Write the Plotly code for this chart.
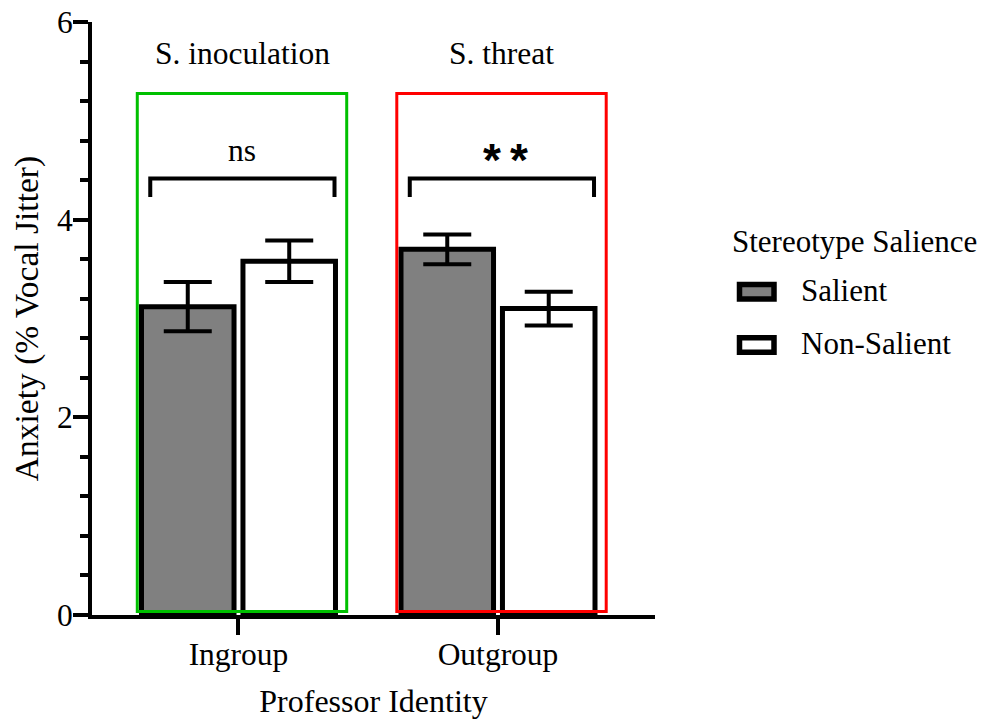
import plotly.graph_objects as go

# ---- data ----
categories = ["Ingroup", "Outgroup"]
salient_vals = [3.12, 3.70]
salient_err = [0.25, 0.15]
nonsalient_vals = [3.58, 3.10]
nonsalient_err = [0.21, 0.17]
series_names = ["Salient", "Non-Salient"]
group_titles = ["S. inoculation", "S. threat"]
sig_labels = ["ns", "**"]
y_ticks = [0, 2, 4, 6]

FONT = "Liberation Serif"
FS = 31.5

# page has an 8px body margin; figure is drawn from (8, 8)
OFF = 8
W, H = 988 - OFF, 720 - OFF
# plot area in figure pixels
L, R, T, B = 84, 647, 13.5, 607.5

def px_x(p):  # screen px -> paper
    return (p - OFF - L) / (R - L)

def px_y(p):
    return (B - (p - OFF)) / (B - T)

x_idx = list(range(len(categories)))

fig = go.Figure()
fig.add_trace(go.Bar(
    x=x_idx, y=salient_vals, name=series_names[0],
    marker=dict(color="#808080", line=dict(color="black", width=5)),
    error_y=dict(type="data", array=salient_err, color="black", thickness=4, width=24),
    showlegend=False,
))
fig.add_trace(go.Bar(
    x=x_idx, y=nonsalient_vals, name=series_names[1],
    marker=dict(color="white", line=dict(color="black", width=5)),
    error_y=dict(type="data", array=nonsalient_err, color="black", thickness=4, width=24),
    showlegend=False,
))

shapes = []
annotations = []
box_colors = ["#00C000", "#FF0000"]
for i, cat in enumerate(categories):
    shapes.append(dict(type="rect", xref="x", yref="y",
                       x0=i - 0.39, x1=i + 0.417, y0=0.035, y1=5.277,
                       line=dict(color=box_colors[i], width=3), fillcolor="rgba(0,0,0,0)",
                       layer="above"))
    bx0, bx1 = i - 0.34, i + 0.37
    shapes.append(dict(type="path", xref="x", yref="y",
                       path=f"M {bx0},4.23 L {bx0},4.417 L {bx1},4.417 L {bx1},4.23",
                       line=dict(color="black", width=4)))
    annotations.append(dict(x=i + 0.015, y=5.68, xref="x", yref="y", text=group_titles[i],
                            showarrow=False, font=dict(family=FONT, size=FS, color="black"),
                            xanchor="center", yanchor="middle"))
    if sig_labels[i] == "ns":
        annotations.append(dict(x=i + 0.015, y=4.70, xref="x", yref="y", text=sig_labels[i],
                                showarrow=False, font=dict(family=FONT, size=FS, color="black"),
                                xanchor="center", yanchor="middle"))
    else:
        annotations.append(dict(x=i + 0.03, y=4.60, xref="x", yref="y", text="*\u2009*",
                                showarrow=False,
                                font=dict(family="Liberation Sans", size=46, color="black", weight="bold"),
                                xanchor="center", yanchor="middle"))

# manual legend
LFS = 31
annotations.append(dict(x=px_x(730), y=px_y(241), xref="paper", yref="paper",
                        text="Stereotype Salience", showarrow=False,
                        font=dict(family=FONT, size=LFS, color="black"),
                        xanchor="left", yanchor="middle"))
leg_fill = ["#808080", "white"]
leg_y = [291.7, 345]
for k, name in enumerate(series_names):
    shapes.append(dict(type="rect", xref="paper", yref="paper",
                       x0=px_x(739.5), x1=px_x(774), y0=px_y(leg_y[k] - 7.3), y1=px_y(leg_y[k] + 7.3),
                       line=dict(color="black", width=5.5), fillcolor=leg_fill[k]))
    annotations.append(dict(x=px_x(799), y=px_y(leg_y[k] - 1), xref="paper", yref="paper",
                            text=name, showarrow=False,
                            font=dict(family=FONT, size=LFS, color="black"),
                            xanchor="left", yanchor="middle"))

fig.update_layout(
    width=W, height=H,
    margin=dict(l=L, r=W - R, t=T, b=H - B, pad=0, autoexpand=False),
    plot_bgcolor="white", paper_bgcolor="white",
    barmode="group", bargap=0.218, bargroupgap=0.088,
    shapes=shapes, annotations=annotations,
    font=dict(family=FONT, size=FS, color="black"),
)
fig.update_xaxes(
    range=[-0.5645, 1.605], tickvals=x_idx, ticktext=categories,
    showline=True, linecolor="black", linewidth=4,
    ticks="outside", ticklen=16, tickwidth=4, tickcolor="black",
    ticklabelstandoff=-8, ticklabeloverflow="allow",
    tickfont=dict(family=FONT, size=FS), showgrid=False, zeroline=False,
    automargin=False,
    title=dict(text="Professor Identity", font=dict(family=FONT, size=32), standoff=20),
)
fig.update_yaxes(
    range=[0, 6], tickvals=y_ticks,
    showline=True, linecolor="black", linewidth=4,
    ticks="outside", ticklen=15, tickwidth=4, tickcolor="black",
    ticklabelstandoff=-6, ticklabeloverflow="allow",
    minor=dict(dtick=0.4, tick0=0, ticks="outside", ticklen=8, tickwidth=4, tickcolor="black", showgrid=False),
    tickfont=dict(family=FONT, size=FS), showgrid=False, zeroline=False,
    automargin=False,
    title=dict(text="Anxiety (% Vocal Jitter)", font=dict(family=FONT, size=33.5), standoff=11),
)

fig.write_html("out.html")
